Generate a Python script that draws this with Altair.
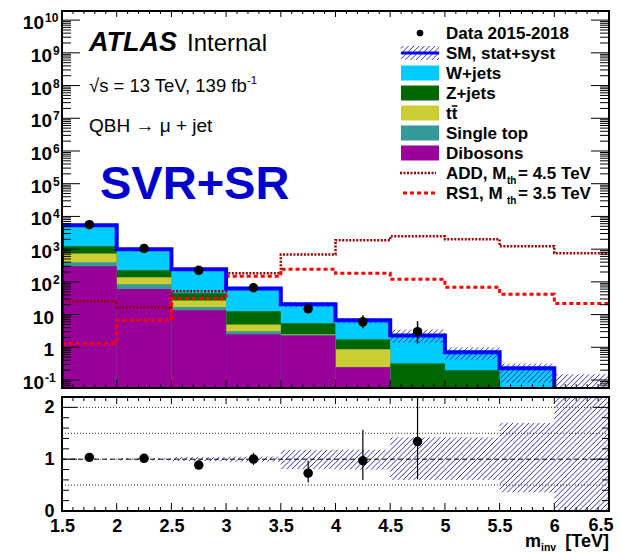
import math
import altair as alt
import pandas as pd

# ---------------- data ----------------
edges = [1.5, 2.0, 2.5, 3.0, 3.5, 4.0, 4.5, 5.0, 5.5, 6.0, 6.5]
dibosons   = [300, 60, 13.5, 2.5, 2.3, 0.245, 0, 0, 0, 0]
single_top = [100, 25, 3.5, 0.6, 0.1, 0, 0, 0, 0, 0]
ttbar      = [340, 53, 10, 1.9, 0.1, 0.62, 0, 0, 0, 0]
zjets      = [490, 87, 18, 7.6, 2.9, 0.88, 0.32, 0.2, 0, 0]
wjets      = [4170, 775, 200, 50.4, 15.2, 4.95, 1.98, 0.5, 0.23, 0]
sm_band_lo = [5346, 980, 235, 60, 16.9, 5.4, 1.38, 0.42, 0.083, 0]
sm_band_hi = [5454, 1020, 255, 66, 24.3, 7.7, 3.5, 1.0, 0.32, 0.15]
add_signal = [25.6, 16.6, 52, 182, 690, 1870, 2470, 2000, 1230, 750]
rs1_signal = [1.3, 6.7, 31, 148, 245, 182, 120, 68, 42, 22]
data_x  = [1.75, 2.25, 2.75, 3.25, 3.75, 4.25, 4.75]
data_n  = [5600, 1050, 225, 66, 15, 6, 3]
data_lo = [5525, 1018, 210, 58, 11.5, 3.8, 1.3]
data_hi = [5675, 1082, 240, 74, 19.5, 9.5, 6.3]
ratio    = [1.035, 1.016, 0.887, 1.003, 0.73, 0.97, 1.34]
ratio_lo = [1.02, 0.99, 0.83, 0.89, 0.55, 0.60, 0.615]
ratio_hi = [1.05, 1.04, 0.94, 1.12, 0.97, 1.57, 2.6]
ratio_band_lo = [0.99, 0.98, 0.96, 0.95, 0.81, 0.80, 0.60, 0.60, 0.36, 0.0]
ratio_band_hi = [1.01, 1.02, 1.04, 1.05, 1.18, 1.18, 1.42, 1.42, 1.70, 3.0]

names  = ["W+jets", "Z+jets", "tt", "Single top", "Dibosons"]
colors = ["#00ccff", "#006600", "#cccc33", "#339999", "#990099"]

# ---------------- layout / style ----------------
W, HT, HR = 547, 377, 114
XMIN, XMAX = edges[0], edges[-1]
YT_MIN, YT_MAX = 0.057, 1.9e10
YR_MIN, YR_MAX = 0.0, 2.2
LT, LB = math.log10(YT_MAX), math.log10(YT_MIN)
FONT = "Liberation Sans"
HATCH = "#3333b0"

xscale = alt.Scale(domain=[XMIN, XMAX], nice=False, zero=False)
ytscale = alt.Scale(type="log", domain=[YT_MIN, YT_MAX], nice=False)
yrscale = alt.Scale(domain=[YR_MIN, YR_MAX], nice=False, zero=False)
cscale = alt.Scale(domain=names, range=colors)


def x_px(x):
    return (x - XMIN) / (XMAX - XMIN) * W


def x_dat(p):
    return XMIN + p / W * (XMAX - XMIN)


def yt_px(v):
    if v <= 0:
        return HT
    return min(HT, max(0.0, (LT - math.log10(v)) / (LT - LB) * HT))


def yt_dat(p):
    return 10 ** (LT - p / HT * (LT - LB))


def yr_px(v):
    return min(HR, max(0.0, (YR_MAX - v) / (YR_MAX - YR_MIN) * HR))


def yr_dat(p):
    return YR_MAX - p / HR * (YR_MAX - YR_MIN)


def hatch_px(X0, X1, Y0, Y1, s=5.3):
    out = []
    if Y1 - Y0 < 0.4 or X1 - X0 < 0.4:
        return out
    k0 = math.ceil((X0 + Y0) / s)
    k1 = math.floor((X1 + Y1) / s)
    for k in range(k0, k1 + 1):
        c = k * s
        a = max(X0, c - Y1)
        b = min(X1, c - Y0)
        if b - a > 0.2:
            out.append((a, c - a, b, c - b))
    return out


def hatch_df(lo, hi, yfwd, yinv):
    rows = []
    for i in range(len(lo)):
        X0, X1 = x_px(edges[i]), x_px(edges[i + 1])
        for a, ya, b, yb in hatch_px(X0, X1, yfwd(hi[i]), yfwd(lo[i])):
            rows.append(dict(x=x_dat(a), y=yinv(ya), x2=x_dat(b), y2=yinv(yb)))
    return pd.DataFrame(rows)


def txt(s, x, y, size, weight="normal", style="normal", color="black", align="left"):
    return alt.Chart(pd.DataFrame({"t": [s]})).mark_text(
        font=FONT, fontSize=size, fontWeight=weight, fontStyle=style, color=color,
        align=align, baseline="alphabetic").encode(
        x=alt.value(x), y=alt.value(y), text="t:N")


def ticks(vals, orient, length, H, scale, axis=None):
    df = pd.DataFrame({"v": vals})
    m = alt.Chart(df).mark_rule(color="black", strokeWidth=1)
    if orient == "left":
        return m.encode(y=alt.Y("v:Q", scale=scale, axis=axis), x=alt.value(0), x2=alt.value(length))
    if orient == "right":
        return m.encode(y=alt.Y("v:Q", scale=scale, axis=axis), x=alt.value(W - length), x2=alt.value(W))
    if orient == "bottom":
        return m.encode(x=alt.X("v:Q", scale=scale, axis=axis), y=alt.value(H), y2=alt.value(H - length))
    return m.encode(x=alt.X("v:Q", scale=scale, axis=axis), y=alt.value(0), y2=alt.value(length))


xt_major = [1.5 + 0.5 * i for i in range(11)]
xt_minor = [round(1.5 + 0.1 * i, 3) for i in range(51) if i % 5 != 0]
yt_major = [10.0 ** k for k in range(-1, 11)]
yt_minor = [m * 10.0 ** k for k in range(-2, 11) for m in range(2, 10)
            if YT_MIN <= m * 10.0 ** k <= YT_MAX]
yr_major = [0.0, 1.0, 2.0]
yr_minor = [round(0.2 * i, 3) for i in range(1, 11) if i % 5 != 0]

# ---------------- top panel ----------------
bottom_up = [dibosons, single_top, ttbar, zjets, wjets]
cum = []
run = [0.0] * 10
for comp in bottom_up:
    run = [r + c for r, c in zip(run, comp)]
    cum.append(run)
stack_rows = []
for j, nm in enumerate(names):
    c = cum[4 - j]
    for i in range(10):
        if c[i] > 0:
            stack_rows.append(dict(name=nm, lo=edges[i], hi=edges[i + 1], top=c[i], k=j))
stack_df = pd.DataFrame(stack_rows)

stack = alt.Chart(stack_df).mark_rect(clip=True).encode(
    x=alt.X("lo:Q", scale=xscale, axis=None), x2="hi:Q",
    y=alt.Y("top:Q", scale=ytscale, axis=None), y2=alt.value(HT),
    color=alt.Color("name:N", scale=cscale, legend=None))

top_hatch = alt.Chart(hatch_df(sm_band_lo, sm_band_hi, yt_px, yt_dat)).mark_rule(
    color=HATCH, strokeWidth=1, clip=True).encode(
    x=alt.X("x:Q", scale=xscale, axis=None), x2="x2:Q",
    y=alt.Y("y:Q", scale=ytscale, axis=None), y2="y2:Q")

FLOOR = 1e-4
totals = cum[4]
tot_pts = [(edges[0], FLOOR)] + [(edges[i], max(totals[i], FLOOR)) for i in range(10)] + [(edges[-1], FLOOR)]
tot_df = pd.DataFrame([dict(i=n, x=p[0], y=p[1]) for n, p in enumerate(tot_pts)])
total_line = alt.Chart(tot_df).mark_line(
    interpolate="step-after", color="#0000ff", strokeWidth=4, clip=True).encode(
    x=alt.X("x:Q", scale=xscale, axis=None), y=alt.Y("y:Q", scale=ytscale, axis=None),
    order="i:Q")


def sig_line(vals, color, dash, width):
    pts = [(edges[i], vals[i]) for i in range(10)] + [(edges[-1], vals[-1])]
    df = pd.DataFrame([dict(i=n, x=p[0], y=p[1]) for n, p in enumerate(pts)])
    return alt.Chart(df).mark_line(
        interpolate="step-after", color=color, strokeDash=dash, strokeWidth=width, clip=True).encode(
        x=alt.X("x:Q", scale=xscale, axis=None), y=alt.Y("y:Q", scale=ytscale, axis=None),
        order="i:Q")


add_line = sig_line(add_signal, "#990000", [2, 1.5], 2.5)
rs1_line = sig_line(rs1_signal, "#ff0000", [4, 3], 3)

data_df = pd.DataFrame(dict(x=data_x, n=data_n, lo=data_lo, hi=data_hi))
data_err = alt.Chart(data_df).mark_rule(color="black", strokeWidth=1.5, clip=True).encode(
    x=alt.X("x:Q", scale=xscale, axis=None),
    y=alt.Y("lo:Q", scale=ytscale, axis=None), y2="hi:Q")
data_pts = alt.Chart(data_df).mark_circle(size=90, color="black", opacity=1).encode(
    x=alt.X("x:Q", scale=xscale, axis=None), y=alt.Y("n:Q", scale=ytscale, axis=None))

# y-axis labels 10^k
lab_rows = []
for k in range(-1, 11):
    if k == 0:
        base, ex = "1", ""
    elif k == 1:
        base, ex = "10", ""
    else:
        base, ex = "10", str(k)
    bx = -8 if ex == "" else (-10 if len(ex) == 1 else -18)
    lab_rows.append(dict(v=10.0 ** k, base=base, ex=ex, bx=bx, ex_x=bx + 1))
lab_df = pd.DataFrame(lab_rows)
ylab_base = alt.Chart(lab_df).mark_text(
    font=FONT, fontSize=19, fontWeight="bold", align="right", baseline="middle", dy=3).encode(
    y=alt.Y("v:Q", scale=ytscale, axis=None), x=alt.X("bx:Q", scale=None), text="base:N")
ylab_exp = alt.Chart(lab_df[lab_df.ex != ""]).mark_text(
    font=FONT, fontSize=12, fontWeight="bold", align="left", baseline="middle", dy=-2).encode(
    y=alt.Y("v:Q", scale=ytscale, axis=None), x=alt.X("ex_x:Q", scale=None), text="ex:N")

# annotations
annots = [
    txt("ATLAS", 27, 40, 27, weight="bold", style="italic"),
    txt("Internal", 125, 40, 24),
    txt("\u221as = 13 TeV, 139 fb", 27, 81, 18.5),
    txt("-1", 185, 73, 11.5),
    txt("QBH \u2192 \u03bc + jet", 27, 121, 19),
    txt("SVR+SR", 38, 188, 47, weight="bold", color="#0000cc"),
]

# legend
LX0, LX1, LTX = 339, 377, 384
LFS = 17
row_c = [22 + 20 * i for i in range(9)]
box_df = pd.DataFrame([dict(name=nm, y0=row_c[2 + j] - 7.5, y1=row_c[2 + j] + 7.5, x0=LX0, x1=LX1)
                       for j, nm in enumerate(names)])
leg_boxes = alt.Chart(box_df).mark_rect().encode(
    x=alt.X("x0:Q", scale=None), x2="x1:Q", y=alt.Y("y0:Q", scale=None), y2="y1:Q",
    color=alt.Color("name:N", scale=cscale, legend=None))
leg_labels = ["Data 2015-2018", "SM, stat+syst", "W+jets", "Z+jets", "tt", "Single top", "Dibosons"]
leg_txt_df = pd.DataFrame([dict(t=s, y=row_c[i] + 5.5) for i, s in enumerate(leg_labels)])
leg_txt = alt.Chart(leg_txt_df).mark_text(
    font=FONT, fontSize=LFS, fontWeight="bold", align="left", baseline="alphabetic").encode(
    x=alt.value(LTX), y=alt.Y("y:Q", scale=None), text="t:N")
ttbar_bar = alt.Chart(pd.DataFrame({"a": [0]})).mark_rule(color="black", strokeWidth=1.5).encode(
    x=alt.value(LTX + 5.8), x2=alt.value(LTX + 11.5), y=alt.value(row_c[4] - 7), y2=alt.value(row_c[4] - 7))
leg_dot = alt.Chart(pd.DataFrame({"a": [0]})).mark_circle(size=45, color="black", opacity=1).encode(
    x=alt.value(358), y=alt.value(row_c[0]))
sm_hatch_df = pd.DataFrame([dict(x=a, y=ya, x2=b, y2=yb)
                            for a, ya, b, yb in hatch_px(LX0, LX1, row_c[1] - 7, row_c[1] + 7)])
leg_sm_hatch = alt.Chart(sm_hatch_df).mark_rule(color=HATCH, strokeWidth=1).encode(
    x=alt.X("x:Q", scale=None), x2="x2:Q", y=alt.Y("y:Q", scale=None), y2="y2:Q")
leg_sm_line = alt.Chart(pd.DataFrame({"a": [0]})).mark_rule(color="#0000ff", strokeWidth=3).encode(
    x=alt.value(LX0), x2=alt.value(LX1), y=alt.value(row_c[1]), y2=alt.value(row_c[1]))
leg_add = alt.Chart(pd.DataFrame({"a": [0]})).mark_rule(
    color="#990000", strokeWidth=2.5, strokeDash=[2, 1.5]).encode(
    x=alt.value(LX0 - 1), x2=alt.value(LX1 - 3), y=alt.value(row_c[7]), y2=alt.value(row_c[7]))
leg_rs1 = alt.Chart(pd.DataFrame({"a": [0]})).mark_rule(
    color="#ff0000", strokeWidth=3, strokeDash=[4, 3]).encode(
    x=alt.value(LX0 + 2), x2=alt.value(LX1 - 2), y=alt.value(row_c[8]), y2=alt.value(row_c[8]))
sig_texts = [
    txt("ADD, M", LTX, row_c[7] + 5.5, LFS, weight="bold"),
    txt("th", LTX + 61, row_c[7] + 11, 10, weight="bold"),
    txt("= 4.5 TeV", LTX + 72, row_c[7] + 5.5, LFS, weight="bold"),
    txt("RS1, M", LTX, row_c[8] + 5.5, LFS, weight="bold"),
    txt("th", LTX + 61, row_c[8] + 11, 10, weight="bold"),
    txt("= 3.5 TeV", LTX + 72, row_c[8] + 5.5, LFS, weight="bold"),
]

frame_top = alt.Chart(pd.DataFrame({"a": [0]})).mark_rect(
    fill="transparent", stroke="black", strokeWidth=2).encode(
    x=alt.value(0), x2=alt.value(W), y=alt.value(0), y2=alt.value(HT))
spacer = alt.Chart(pd.DataFrame({"a": [0]})).mark_rule(color="white", strokeWidth=1).encode(
    x=alt.value(-53), x2=alt.value(-52), y=alt.value(-2), y2=alt.value(-1))

top = alt.layer(
    stack, top_hatch, add_line, rs1_line, total_line, data_err, data_pts,
    ticks(yt_major, "left", 18, HT, ytscale), ticks(yt_minor, "left", 9, HT, ytscale),
    ticks(yt_major, "right", 18, HT, ytscale), ticks(yt_minor, "right", 9, HT, ytscale),
    ticks(xt_major, "bottom", 8, HT, xscale), ticks(xt_minor, "bottom", 4, HT, xscale),
    ticks(xt_major, "top", 6, HT, xscale), ticks(xt_minor, "top", 3, HT, xscale),
    ylab_base, ylab_exp, *annots,
    leg_boxes, leg_txt, ttbar_bar, leg_dot, leg_sm_hatch, leg_sm_line, leg_add, leg_rs1, *sig_texts,
    frame_top, spacer,
).properties(width=W, height=HT)

# ---------------- ratio panel ----------------
xaxis_r = alt.Axis(values=xt_major[:-1], ticks=False, tickSize=0, domain=False, grid=False,
                   labelFont=FONT, labelFontSize=18, labelFontWeight="bold", labelColor="black",
                   labelPadding=6, labelFlush=False, labelOverlap=False, title=None,
                   labelExpr="datum.value == floor(datum.value) ? format(datum.value, 'd') : format(datum.value, '.1f')")
yaxis_r = alt.Axis(values=yr_major, ticks=False, tickSize=0, domain=False, grid=False,
                   labelFont=FONT, labelFontSize=18, labelFontWeight="bold", labelColor="black",
                   labelPadding=8, labelFlush=False, labelOverlap=False, title=None,
                   labelBaseline="middle", format="d")


def XR(f):
    return alt.X(f, scale=xscale, axis=xaxis_r)


def YR(f):
    return alt.Y(f, scale=yrscale, axis=yaxis_r)


r_hatch = alt.Chart(hatch_df(ratio_band_lo, ratio_band_hi, yr_px, yr_dat)).mark_rule(
    color=HATCH, strokeWidth=1, clip=True).encode(x=XR("x:Q"), x2="x2:Q", y=YR("y:Q"), y2="y2:Q")
grid_df = pd.DataFrame({"v": [0.5, 1.5, 2.0]})
r_grid = alt.Chart(grid_df).mark_rule(color="#222222", strokeWidth=1, strokeDash=[1, 2]).encode(
    y=YR("v:Q"), x=alt.value(0), x2=alt.value(W))
r_one = alt.Chart(pd.DataFrame({"v": [1.0]})).mark_rule(color="black", strokeWidth=1, strokeDash=[5, 3]).encode(
    y=YR("v:Q"), x=alt.value(0), x2=alt.value(W))
rdf = pd.DataFrame(dict(x=data_x, r=ratio, lo=ratio_lo, hi=ratio_hi))
r_err = alt.Chart(rdf).mark_rule(color="black", strokeWidth=1.2, clip=True).encode(
    x=XR("x:Q"), y=YR("lo:Q"), y2="hi:Q")
r_pts = alt.Chart(rdf).mark_circle(size=90, color="black", opacity=1).encode(x=XR("x:Q"), y=YR("r:Q"))

# last x label drawn separately so that it stays inside the window
last_lab = alt.Chart(pd.DataFrame({"v": [xt_major[-1]], "t": ["6.5"]})).mark_text(
    font=FONT, fontSize=18, fontWeight="bold", align="center", baseline="top", dx=-8).encode(
    x=XR("v:Q"), y=alt.value(HR + 6), text="t:N")

frame_r = alt.Chart(pd.DataFrame({"a": [0]})).mark_rect(
    fill="transparent", stroke="black", strokeWidth=2).encode(
    x=alt.value(0), x2=alt.value(W), y=alt.value(0), y2=alt.value(HR))

xtitle = [
    txt("m", 463, 150, 18, weight="bold"),
    txt("inv", 479, 154, 10.5, weight="bold"),
    txt("[TeV]", W, 150, 18, weight="bold", align="right"),
]

ratio_chart = alt.layer(
    r_hatch, r_grid, r_one, r_err, r_pts,
    ticks(yr_major, "left", 15, HR, yrscale, yaxis_r), ticks(yr_minor, "left", 7, HR, yrscale, yaxis_r),
    ticks(yr_major, "right", 15, HR, yrscale, yaxis_r), ticks(yr_minor, "right", 7, HR, yrscale, yaxis_r),
    ticks(xt_major, "bottom", 8, HR, xscale, xaxis_r), ticks(xt_minor, "bottom", 4, HR, xscale, xaxis_r),
    ticks(xt_major, "top", 7, HR, xscale, xaxis_r), ticks(xt_minor, "top", 4, HR, xscale, xaxis_r),
    frame_r, last_lab, *xtitle,
).properties(width=W, height=HR)

chart = alt.vconcat(top, ratio_chart, spacing=9, bounds="flush").properties(
    padding={"left": 0, "top": 0, "right": 0, "bottom": 0}, background="white"
).configure_view(stroke=None)

chart.save("out.html", embed_options={"renderer": "svg", "actions": False})
